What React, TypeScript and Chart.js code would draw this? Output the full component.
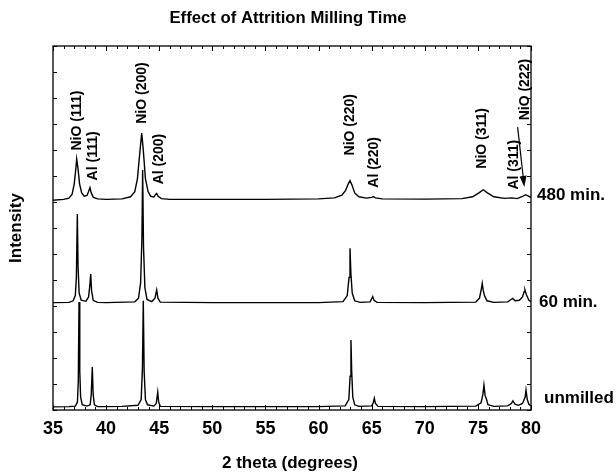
import React, { useEffect, useRef } from "react";
import { Chart, registerables } from "chart.js";

Chart.register(...registerables);

// ---- data (2θ in degrees, intensity relative to each trace's own baseline) ----
const unmilledPts: [number, number][] = [
  [35, 0.2], [36.5, 0.3], [37.1, 0.5], [37.3, 2], [37.38, 10], [37.45, 40.5], [37.52, 14], [37.6, 4], [37.75, 1],
  [38.2, 0.5], [38.5, 1], [38.6, 5], [38.7, 15.5], [38.78, 5], [38.9, 1], [39.2, 0.3], [40, 0.3], [41.5, 0.4],
  [43.0, 0.8], [43.3, 3], [43.42, 15], [43.5, 41], [43.58, 14], [43.7, 3], [43.9, 1], [44.5, 0.5], [44.72, 1.5],
  [44.86, 5.9], [44.95, 2], [45.1, 0.4], [50, 0.3], [55, 0.3], [60, 0.3], [62.5, 0.6], [62.85, 3], [62.97, 12],
  [63.05, 25.9], [63.12, 14], [63.22, 4], [63.4, 1], [63.8, 0.4], [65.0, 0.6], [65.15, 1.8], [65.25, 3.5],
  [65.35, 1.5], [65.6, 0.4], [70, 0.3], [74.8, 0.5], [75.3, 1.8], [75.47, 5], [75.57, 8.6], [75.68, 4.5],
  [75.78, 3.5], [75.95, 1], [76.5, 0.4], [77.8, 0.6], [78.15, 1.5], [78.3, 2.5], [78.5, 1.2], [78.8, 0.8],
  [79.2, 1.5], [79.45, 4], [79.53, 6.7], [79.65, 3], [79.8, 1.2], [80, 0.6],
];

const min60Pts: [number, number][] = [
  [35, 0.3], [36.5, 0.4], [36.9, 1], [37.1, 3], [37.2, 10], [37.29, 34.4], [37.36, 14], [37.46, 4], [37.65, 1.2],
  [38.1, 0.8], [38.35, 2.5], [38.47, 7], [38.55, 11.3], [38.63, 5], [38.78, 1.2], [39.2, 0.4], [40, 0.3],
  [42.7, 0.6], [43.05, 2], [43.25, 8], [43.37, 25], [43.44, 51.3], [43.52, 22], [43.65, 6], [43.85, 1.5],
  [44.3, 0.7], [44.6, 2], [44.76, 5.2], [44.88, 2], [45.1, 0.5], [50, 0.3], [55, 0.3], [60, 0.3], [62.3, 0.7],
  [62.7, 3], [62.87, 10], [62.96, 21.2], [63.05, 11], [63.17, 4], [63.4, 1], [63.9, 0.4], [64.85, 0.6],
  [65.0, 1.8], [65.1, 2.6], [65.22, 1.2], [65.5, 0.4], [70, 0.3], [74.8, 0.5], [75.15, 2], [75.32, 5.5],
  [75.41, 7.7], [75.5, 5], [75.62, 3], [75.85, 1], [76.5, 0.4], [77.8, 0.6], [78.12, 1.5], [78.28, 1.9],
  [78.5, 1], [78.9, 1.2], [79.2, 2.5], [79.35, 4.5], [79.43, 5.2], [79.55, 3.5], [79.8, 1.2], [80, 0.7],
];

const min480Pts: [number, number][] = [
  [35, -0.3], [36, 0], [36.5, 0.5], [36.8, 2], [37.0, 6], [37.13, 11], [37.23, 15.5], [37.35, 12], [37.5, 6],
  [37.7, 2.5], [37.95, 1.2], [38.2, 1.5], [38.35, 3], [38.48, 4.5], [38.6, 2.5], [38.8, 0.8], [39.2, 0.2],
  [40, 0], [41.5, 0.2], [42.3, 1], [42.7, 3], [42.95, 8], [43.15, 17], [43.35, 25.5], [43.5, 19], [43.7, 8],
  [43.95, 3], [44.2, 1.2], [44.5, 0.9], [44.65, 1.8], [44.76, 2.3], [44.9, 1.2], [45.2, 0.3], [46, 0], [50, 0],
  [55, 0], [60, 0.2], [61.5, 0.6], [62.2, 1.6], [62.55, 3.5], [62.8, 6], [62.96, 7.2], [63.15, 5.5], [63.4, 2.5],
  [63.8, 1], [64.5, 0.5], [65.0, 0.8], [65.15, 1.1], [65.35, 0.6], [66, 0.2], [70, 0.1], [73.5, 0.3], [74.5, 1],
  [75.1, 2.5], [75.5, 3.7], [75.9, 2.5], [76.5, 1], [77.5, 0.4], [78.2, 0.6], [78.7, 0.3], [79.2, 1.2],
  [79.5, 1.8], [79.8, 1.2], [80, 0.8],
];

const seriesNames = ["unmilled", "60 min.", "480 min."];
const seriesOffsets = [1, 41, 81];
const seriesLabelY = [4.6, 41.6, 82.6];

// peak labels: [text, 2θ (center of text), intensity where text starts]
const peakLabels: [string, number, number][] = [
  ["NiO (111)", 37.29, 99.8],
  ["Al (111)", 38.79, 88.3],
  ["NiO (200)", 43.41, 110.1],
  ["Al (200)", 44.98, 86.8],
  ["NiO (220)", 62.96, 97.9],
  ["Al (220)", 65.22, 85.5],
  ["NiO (311)", 75.41, 92.8],
  ["Al (311)", 78.43, 84.8],
  ["NiO (222)", 79.44, 111.4],
];
const arrowFrom: [number, number] = [78.74, 108.8];
const arrowTo: [number, number] = [79.37, 85.8];

const xMin = 35;
const xMax = 80;
const xStep = 5;
const yMin = 0;
const yMax = 140;
const yStep = 10;

const chartTitle = "Effect of Attrition Milling Time";
const xTitle = "2 theta (degrees)";
const yTitle = "Intensity";

const FONT = "'Liberation Sans', Arial, Helvetica, sans-serif";

const decorPlugin = {
  id: "decor",
  afterDraw(chart: any) {
    const ctx = chart.ctx;
    const { left, right, top, bottom } = chart.chartArea;
    const xs = chart.scales.x;
    const ys = chart.scales.y;
    ctx.save();
    ctx.strokeStyle = "#000";
    ctx.fillStyle = "#000";
    ctx.lineWidth = 1.3;
    ctx.strokeRect(left, top, right - left, bottom - top);
    // x ticks (minor every 1°, major every 5°), inward on top and bottom
    ctx.lineWidth = 1;
    for (let v = xMin; v <= xMax; v += 1) {
      const px = Math.round(xs.getPixelForValue(v)) + 0.5;
      const len = (v - xMin) % xStep === 0 ? 5 : 3;
      ctx.beginPath();
      ctx.moveTo(px, bottom);
      ctx.lineTo(px, bottom - len);
      ctx.moveTo(px, top);
      ctx.lineTo(px, top + len);
      ctx.stroke();
    }
    for (let v = yMin; v <= yMax; v += yStep) {
      const py = Math.round(ys.getPixelForValue(v)) + 0.5;
      ctx.beginPath();
      ctx.moveTo(left, py);
      ctx.lineTo(left + 4, py);
      ctx.moveTo(right, py);
      ctx.lineTo(right - 4, py);
      ctx.stroke();
    }
    // peak labels
    ctx.font = `bold 14px ${FONT}`;
    ctx.textAlign = "left";
    ctx.textBaseline = "middle";
    for (const [t, x, y] of peakLabels) {
      const px = xs.getPixelForValue(x);
      const py = ys.getPixelForValue(y);
      ctx.save();
      ctx.translate(px, py);
      ctx.rotate(-Math.PI / 2);
      ctx.fillText(t, 0, 0);
      ctx.restore();
    }
    // arrow
    const ax0 = xs.getPixelForValue(arrowFrom[0]);
    const ay0 = ys.getPixelForValue(arrowFrom[1]);
    const ax1 = xs.getPixelForValue(arrowTo[0]);
    const ay1 = ys.getPixelForValue(arrowTo[1]);
    const ang = Math.atan2(ay1 - ay0, ax1 - ax0);
    ctx.lineWidth = 1.2;
    ctx.beginPath();
    ctx.moveTo(ax0, ay0);
    ctx.lineTo(ax1 - 8 * Math.cos(ang), ay1 - 8 * Math.sin(ang));
    ctx.stroke();
    ctx.beginPath();
    ctx.moveTo(ax1, ay1);
    ctx.lineTo(ax1 - 11 * Math.cos(ang) + 3.5 * Math.sin(ang), ay1 - 11 * Math.sin(ang) - 3.5 * Math.cos(ang));
    ctx.lineTo(ax1 - 11 * Math.cos(ang) - 3.5 * Math.sin(ang), ay1 - 11 * Math.sin(ang) + 3.5 * Math.cos(ang));
    ctx.closePath();
    ctx.fill();
    // series labels on the right
    ctx.font = `bold 17px ${FONT}`;
    ctx.textAlign = "left";
    ctx.textBaseline = "middle";
    const dx = [13, 8, 6];
    seriesNames.forEach((n, i) => {
      ctx.fillText(n, right + dx[i], ys.getPixelForValue(seriesLabelY[i]));
    });
    // titles
    ctx.textAlign = "center";
    ctx.font = `bold 16.7px ${FONT}`;
    ctx.fillText(chartTitle, 288, 18);
    ctx.font = `bold 17px ${FONT}`;
    ctx.fillText(xTitle, (left + right) / 2 - 2, 463);
    ctx.save();
    ctx.translate(16, (top + bottom) / 2);
    ctx.rotate(-Math.PI / 2);
    ctx.fillText(yTitle, 0, 0);
    ctx.restore();
    ctx.restore();
  },
};

export default function App() {
  const ref = useRef<HTMLCanvasElement | null>(null);
  useEffect(() => {
    if (!ref.current) return;
    const traces = [unmilledPts, min60Pts, min480Pts];
    const chart = new Chart(ref.current, {
      type: "scatter",
      data: {
        datasets: traces.map((pts, i) => ({
          label: seriesNames[i],
          data: pts.map(([x, y]) => ({ x, y: y + seriesOffsets[i] })),
          showLine: true,
          borderColor: "#000",
          borderWidth: 1.4,
          pointRadius: 0,
          tension: 0,
          fill: false,
        })),
      },
      options: {
        responsive: false,
        animation: false,
        devicePixelRatio: 1,
        layout: { padding: { left: 0, right: 85, top: 46, bottom: 0 } },
        plugins: { legend: { display: false }, tooltip: { enabled: false }, title: { display: false } },
        scales: {
          x: {
            type: "linear",
            min: xMin,
            max: xMax,
            grid: { display: false, drawTicks: false },
            border: { display: false },
            ticks: {
              stepSize: xStep,
              color: "#000",
              padding: 8,
              font: { family: FONT, size: 18, weight: "bold" },
            },
            afterFit: (s: any) => {
              s.height = 64;
            },
          },
          y: {
            type: "linear",
            min: yMin,
            max: yMax,
            grid: { display: false, drawTicks: false },
            border: { display: false },
            ticks: { display: false, stepSize: yStep },
            afterFit: (s: any) => {
              s.width = 53;
            },
          },
        },
      },
      plugins: [decorPlugin],
    });
    return () => chart.destroy();
  }, []);
  return (
    <div style={{ position: "absolute", left: 0, top: 0, width: 616, height: 474, background: "#fff" }}>
      <canvas ref={ref} width={616} height={474} />
    </div>
  );
}
